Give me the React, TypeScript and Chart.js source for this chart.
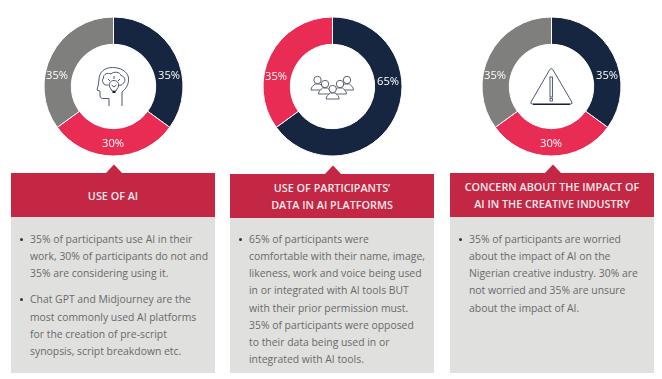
import React, { useEffect, useRef } from "react";
import { Chart, registerables } from "chart.js";

Chart.register(...registerables);

const NAVY = "#162640";
const RED = "#e92c53";
const GRAY = "#7f7f7d";
const FONT = '"Open Sans", sans-serif';

const useLabels = ["Use AI", "Do not use AI", "Considering using AI"];
const useValues = [35, 30, 35];
const dataLabels = ["Comfortable with permission", "Opposed"];
const dataValues = [65, 35];
const concernLabels = ["Worried", "Not worried", "Unsure"];
const concernValues = [35, 30, 35];

const useTitle = ["USE OF AI"];
const dataTitle = ["USE OF PARTICIPANTS’", "DATA IN AI PLATFORMS"];
const concernTitle = ["CONCERN ABOUT THE IMPACT OF", "AI IN THE CREATIVE INDUSTRY"];

const useText = [
  ["35% of participants use AI in their", "work, 30% of participants do not and", "35% are considering using it."],
  ["Chat GPT and Midjourney are the", "most commonly used AI platforms", "for the creation of pre-script", "synopsis, script breakdown etc."],
];
const dataText = [
  ["65% of participants were", "comfortable with their name, image,", "likeness, work and voice being used", "in or integrated with AI tools BUT", "with their prior permission must.", "35% of participants were opposed", "to their data being used in or", "integrated with AI tools."],
];
const concernText = [
  ["35% of participants are worried", "about the impact of AI on the", "Nigerian creative industry. 30% are", "not worried and 35% are unsure", "about the impact of AI."],
];

type Offset = [number, number];

const labelPlugin = {
  id: "sliceLabels",
  afterDatasetsDraw(chart: any, _a: any, opts: any) {
    const { ctx } = chart;
    const meta = chart.getDatasetMeta(0);
    ctx.save();
    ctx.font = `500 11.2px ${FONT}`;
    ctx.fillStyle = "#ffffff";
    ctx.textAlign = "center";
    ctx.textBaseline = "middle";
    meta.data.forEach((arc: any, i: number) => {
      const [dx, dy] = opts.offsets[i];
      ctx.fillText(`${chart.data.datasets[0].data[i]}%`, arc.x + dx, arc.y + dy);
    });
    ctx.restore();
  },
};

function Donut(props: { left: number; labels: string[]; values: number[]; colors: string[]; offsets: Offset[] }) {
  const ref = useRef<HTMLCanvasElement>(null);
  useEffect(() => {
    const chart = new Chart(ref.current!, {
      type: "doughnut",
      data: {
        labels: props.labels,
        datasets: [{ data: props.values, backgroundColor: props.colors, borderColor: "#ffffff", borderWidth: 1 }],
      },
      options: {
        animation: false,
        responsive: false,
        cutout: "60.7%",
        layout: { padding: 5.5 },
        plugins: {
          legend: { display: false },
          tooltip: { enabled: false },
          sliceLabels: { offsets: props.offsets },
        } as any,
      },
      plugins: [labelPlugin],
    } as any);
    return () => chart.destroy();
  }, []);
  return <canvas ref={ref} width={151} height={151} style={{ position: "absolute", left: props.left, top: 11, width: 151, height: 151 }} />;
}

function Panel(props: { left: number; top: number; title: string[]; text: string[][] }) {
  const { left, top, title, text } = props;
  const cx = left + 102.5;
  return (
    <>
      <svg width={24} height={10} style={{ position: "absolute", left: cx - 12, top: top - 9 }}>
        <path d="M3.5 9.5 L12 0.5 L20.5 9.5 Z" fill="#c32744" />
      </svg>
      <div
        style={{
          position: "absolute", left, top, width: 204, height: 44, background: "#c32744", color: "#f7e9ec",
          fontFamily: FONT, fontWeight: 600, fontSize: 10.8, lineHeight: "17px", textAlign: "center",
          display: "flex", flexDirection: "column", justifyContent: "center", whiteSpace: "nowrap",
        }}
      >
        {title.map((t) => <div key={t}>{t}</div>)}
      </div>
      <div style={{ position: "absolute", left, top: top + 44, width: 204, height: 373 - top - 44, background: "#e0e0de" }} />
      {text.map((para, p) => {
        const offset = text.slice(0, p).reduce((s, q) => s + q.length * 17.2 + 9, 0);
        return (
          <div key={p} style={{ position: "absolute", left: left + 19, top: 230.7 + offset, fontFamily: FONT, fontSize: 10.4, lineHeight: "17.2px", color: "#6a6a6a", whiteSpace: "nowrap" }}>
            <div style={{ position: "absolute", left: -10, top: 7, width: 3, height: 3, borderRadius: 2, background: "#333333" }} />
            {para.map((l) => <div key={l}>{l}</div>)}
          </div>
        );
      })}
    </>
  );
}

const ICON = { fill: "none", stroke: "#3b4560", strokeWidth: 0.9 };

function person(cx: number, cy: number, key: string) {
  return (
    <g key={key}>
      <path d={`M${cx - 6.5} ${cy + 10} C${cx - 6.5} ${cy + 7} ${cx - 4} ${cy + 5.5} ${cx - 2.5} ${cy + 4} L${cx + 2.5} ${cy + 4} C${cx + 4} ${cy + 5.5} ${cx + 6.5} ${cy + 7} ${cx + 6.5} ${cy + 10} Z`} fill="#ffffff" stroke="#4b5266" strokeWidth={0.9} />
      <circle cx={cx} cy={cy} r={3.7} fill="#ffffff" stroke="#4b5266" strokeWidth={0.9} />
    </g>
  );
}

function Icons() {
  return (
    <svg width={662} height={379} style={{ position: "absolute", left: 0, top: 0, pointerEvents: "none" }}>
      <g {...ICON}>
        <path d="M122 106 V92 C127 88 129 83 128.5 78 C127.5 71 120 67.5 112.5 67.5 C104.5 67.5 99.5 72 99 79 L98.5 84 L97 90 L100 91 V96 C100 98 102 98.5 104 98.5 H109 V106" />
        <path d="M108.5 85 C103.5 86 101 81 103.5 78 C103 74 108 72.5 111 74 C114 71 120 72 121 75.5 C125.5 76.5 126 82 123 83.5 C122 85.5 120 85.5 118.5 85" />
        <path d="M111 89 C107.5 85 110 80.5 114 80.5 C118 80.5 120.5 85 117 89 L116 91 H112 Z" />
        <path d="M114 76 V79 M108 79 L110 81 M120 79 L118 81 M111.5 85 L114 87 L116.5 85" />
      </g>
      <rect x={112.5} y={91} width={3} height={2} fill="#1b2230" />
      {person(317.5, 80, "a")}
      {person(347, 80, "b")}
      {person(325, 84, "c")}
      {person(340, 84, "d")}
      {person(332.7, 89, "e")}
      <path d="M549.8 69.5 Q551.3 67.5 552.8 69.5 L571.8 102 Q572.8 104 570.5 104 H532.5 Q530 104 531 102 Z" fill="none" stroke="#3b4560" strokeWidth={0.9} />
      <path d="M533 104.3 H570" stroke="#1b2230" strokeWidth={1.2} />
      <rect x={550} y={77} width={2.4} height={20} fill="none" stroke="#3b4560" strokeWidth={0.9} />
      <rect x={550} y={98.5} width={2.4} height={2.5} fill="none" stroke="#3b4560" strokeWidth={0.8} />
    </svg>
  );
}

export default function App() {
  return (
    <div style={{ position: "absolute", left: 0, top: 0, width: 662, height: 379, overflow: "hidden", background: "#ffffff" }}>
      <Donut left={38} labels={useLabels} values={useValues} colors={[NAVY, RED, GRAY]} offsets={[[55.5, -11], [-0.5, 57], [-56.5, -11]]} />
      <Donut left={257} labels={dataLabels} values={dataValues} colors={[NAVY, RED]} offsets={[[55.5, -5], [-56.5, -10]]} />
      <Donut left={476} labels={concernLabels} values={concernValues} colors={[NAVY, RED, GRAY]} offsets={[[55.5, -11], [-0.5, 57], [-56.5, -11]]} />
      <Icons />
      <Panel left={11} top={173} title={useTitle} text={useText} />
      <Panel left={230} top={174} title={dataTitle} text={dataText} />
      <Panel left={450} top={173} title={concernTitle} text={concernText} />
    </div>
  );
}
